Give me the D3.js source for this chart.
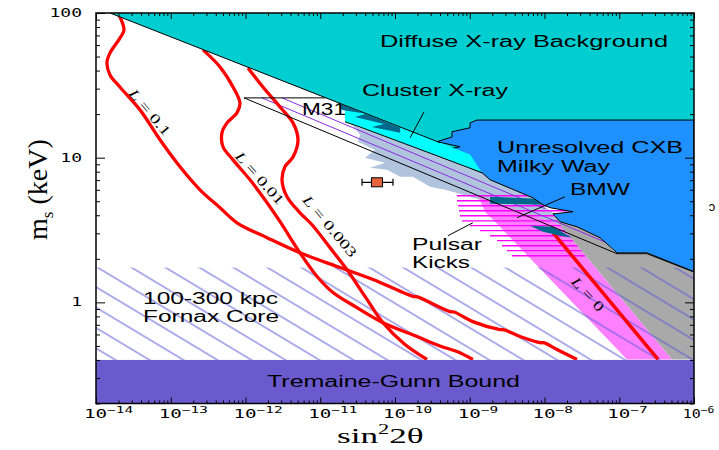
<!DOCTYPE html>
<html>
<head>
<meta charset="utf-8">
<script src="https://cdn.jsdelivr.net/npm/d3@7"></script>
<style>
  body { margin: 0; background: #fff; }
</style>
</head>
<body>
<div id="canvas"></div>
<script>
// axis ranges
const xDomain = [1e-14, 1e-6];
const yDomain = [0.2, 100];
const xDecades = [1e-14, 1e-13, 1e-12, 1e-11, 1e-10, 1e-9, 1e-8, 1e-7, 1e-6];
const xDecadeExps = ["\u221214", "\u221213", "\u221212", "\u221211", "\u221210", "\u22129", "\u22128", "\u22127", "\u22126"];
const yDecades = [1, 10, 100];

// [sin^2 2theta, m_s (keV)]
const curveL01 = [[1.97e-14,100],[2.37e-14,76.4],[2.09e-14,67.1],[1.54e-14,53.0],[1.40e-14,45.2],[1.54e-14,37.3],
  [2.09e-14,30.8],[3.88e-14,21.4],[7.18e-14,13.3],[1.33e-13,8.65],[2.46e-13,6.0],[4.56e-13,4.51],[7.69e-13,3.55],
  [1.94e-12,2.80],[5.36e-12,2.20],[1.84e-11,1.74],[5.08e-11,1.44],[1.74e-10,1.10],[2.0e-10,1.09],[5.45e-10,0.863],
  [6.2e-10,0.858],[1.10e-9,0.736],[2.54e-9,0.649],[2.9e-9,0.645],[4.70e-9,0.581],[8.71e-9,0.527],[1.0e-8,0.525],
  [1.47e-8,0.472],[2.72e-8,0.403]];
const curveL001 = [[2.70e-13,55.6],[4.56e-13,42.4],[6.81e-13,30.8],[8.43e-13,23.9],[7.69e-13,20.4],[5.66e-13,17.4],
  [4.85e-13,14.9],[5.0e-13,11.9],[6.81e-13,9.66],[1.15e-12,7.03],[1.82e-12,5.12],[2.90e-12,3.61],[5.36e-12,2.20],
  [9.06e-12,1.51],[1.48e-11,1.17],[3.10e-11,0.92],[6.90e-11,0.724],[1.97e-10,0.581],[4.0e-10,0.50],[6.75e-10,0.457],
  [1.10e-9,0.403]];
const curveL0003 = [[1.08e-12,41.7],[1.71e-12,30.8],[2.90e-12,22.4],[4.32e-12,17.4],[5.04e-12,13.3],[4.32e-12,10.1],
  [3.37e-12,8.65],[3.08e-12,7.03],[3.59e-12,5.37],[5.36e-12,4.16],[7.76e-12,3.44],[1.35e-11,2.39],[2.28e-11,1.68],
  [3.97e-11,1.10],[6.90e-11,0.724],[1.36e-10,0.511],[2.68e-10,0.403]];
const curveL0 = [[1.30e-8,3.03],[3.30e-7,0.403]];

const diffuseXray = [[1.54e-14,100],[1e-6,100],[1e-6,1.97],[1.37e-9,9.83]];
const diffuseEdge = [[1.54e-14,100],[4.0e-10,12.7]];
const unresolvedCXB = [[1.25e-9,18.2],[1e-6,18.2],[1e-6,1.63],[2.35e-7,2.20],[9.33e-8,2.20],[5.52e-8,2.80],
  [2.72e-8,3.33],[1.61e-8,3.61],[1.30e-8,4.09],[2.40e-8,4.23],[1.19e-8,4.51],[9.55e-9,4.73],[7.01e-9,5.28],
  [1.87e-9,7.03],[1.46e-9,7.87],[1.01e-9,8.51],[7.41e-10,9.23],[6.75e-10,10.1],[3.43e-10,11.0],[7.41e-10,11.9],
  [3.65e-10,12.9],[5.79e-10,13.9],[5.79e-10,15.1],[1.01e-9,16.1],[1.01e-9,17.4]];
const clusterXray = [[2.14e-11,22.8],[4.0e-10,12.7],[1.01e-9,10.5],[1.46e-9,7.87],[1.74e-10,11.9],[3.40e-11,16.3],[2.14e-11,17.7]];
const clusterEdge = [[2.14e-11,17.7],[3.40e-11,16.3],[1.74e-10,11.9],[1.46e-9,7.87]];
const m31Spikes = [[1.73e-11,23.9],[1.17e-10,16.1],[1.17e-10,14.9],[4.92e-11,16.3],[7.13e-11,17.1],[2.92e-11,19.1],
  [4.09e-11,20.1],[1.95e-11,21.4]];
const bmwRegion = [[2.66e-11,16.9],[1.74e-10,11.9],[1.46e-9,7.87],[7.01e-9,5.28],[1.30e-8,4.16],[1.61e-8,3.61],
  [2.40e-8,2.71],[1.38e-8,2.89],[6.40e-9,3.33],[3.45e-9,3.44],[2.54e-9,3.44],[2.05e-9,3.91],[1.37e-9,5.12],
  [6.75e-10,5.71],[4.67e-10,6.0],[2.94e-10,6.30],[1.74e-10,7.38],[1.17e-10,7.38],[7.82e-11,8.24],[4.63e-11,8.51],
  [7.35e-11,9.23],[3.97e-11,9.98],[5.40e-11,11.3],[3.20e-11,12.9],[3.40e-11,14.4]];
const bmwUpperPatch = [[1.87e-9,5.37],[7.94e-9,5.20],[1.02e-8,4.73],[1.87e-9,4.81]];
const bmwLowerPatch = [[6.40e-9,3.39],[1.30e-8,3.33],[2.33e-8,2.80],[1.61e-8,2.89],[9.55e-9,3.08]];
const greyRegion = [[1.30e-8,4.16],[2.72e-8,3.33],[5.52e-8,2.80],[9.33e-8,2.17],[2.35e-7,2.17],[1e-6,1.63],
  [1e-6,0.403],[5.08e-7,0.403],[1.61e-8,3.44]];
const lZeroBand = [[1.29e-9,5.46],[6.40e-9,4.04],[1.61e-8,3.44],[5.08e-7,0.403],[1.27e-7,0.403],[2.54e-9,3.33],[1.60e-9,4.23]];
const pulsarMass = [5.46,5.04,4.65,4.30,3.97,3.66,3.39,3.13,2.89,2.67,2.46,2.28,2.10];
const pulsarLeft = [6.75e-10,6.75e-10,6.97e-10,7.18e-10,7.41e-10,7.87e-10,1.01e-9,1.37e-9,1.87e-9,2.32e-9,2.70e-9,3.15e-9,3.67e-9];
const pulsarRight = 3.48e-8;
const m31Top = [[9.55e-13,25.9],[1.16e-11,25.9]];
const m31Lower = [[9.55e-13,25.9],[9.33e-8,2.17],[2.35e-7,2.17],[9.7e-7,1.63]];
const purpleLines = [[[1.66e-12,25.9],[1.31e-7,2.24]], [[3.08e-12,25.9],[1.02e-8,4.44]]];
const fornaxTop = 1.74;
const tremaineTop = 0.4;
const pointX = 5.74e-11, pointM = 6.76, pointErr = [3.62e-11, 9.40e-11];
const pointers = [[[2.44e-10,20.7],[1.59e-10,13.7]], [[1.88e-8,5.37],[4.29e-9,3.85]], [[5.12e-10,2.89],[1.10e-9,3.55]]];

const svg = d3.select("#canvas").append("svg").attr("width", 719).attr("height", 450);
const x = d3.scaleLog().domain(xDomain).range([96, 694]);
const y = d3.scaleLog().domain(yDomain).range([403.5, 13]);
const line = d3.line().x(d => x(d[0])).y(d => y(d[1]));
const smooth = d3.line().x(d => x(d[0])).y(d => y(d[1])).curve(d3.curveCatmullRom.alpha(0.5));

const plot = svg.append("g");
plot.append("defs").append("clipPath").attr("id", "clip")
  .append("rect").attr("x", 96).attr("y", 13).attr("width", 598).attr("height", 390.5);
const g = plot.append("g").attr("clip-path", "url(#clip)");

function region(pts, fill, stroke) {
  g.append("path").attr("d", line(pts) + "Z").attr("fill", fill)
    .attr("stroke", stroke || "none").attr("stroke-width", 1);
}
function polyline(pts, color, width, curved) {
  g.append("path").attr("d", (curved ? smooth : line)(pts)).attr("fill", "none")
    .attr("stroke", color).attr("stroke-width", width).attr("stroke-linejoin", "round");
}

region(bmwRegion, "#b0c4de");
region(lZeroBand, "#ff80ff");
pulsarMass.forEach((m, i) => {
  g.append("line").attr("x1", x(pulsarLeft[i])).attr("x2", x(pulsarRight))
    .attr("y1", y(m)).attr("y2", y(m)).attr("stroke", "#ff00ff").attr("stroke-width", 1.4);
});
region(greyRegion, "#a9a9a9");
purpleLines.forEach(p => polyline(p, "#8a2be2", 1));

// Fornax hatch
const pat = svg.append("defs").append("pattern").attr("id", "fornax")
  .attr("patternUnits", "userSpaceOnUse").attr("width", 40).attr("height", 17.5)
  .attr("patternTransform", "translate(106.2,262.5) rotate(31)");
pat.append("line").attr("x1", 0).attr("x2", 40).attr("y1", 8.75).attr("y2", 8.75)
  .attr("stroke", "#5a5ad8").attr("stroke-width", 1);
g.append("rect").attr("x", 96).attr("width", 598)
  .attr("y", y(fornaxTop)).attr("height", y(tremaineTop) - y(fornaxTop))
  .attr("fill", "url(#fornax)");

[curveL01, curveL001, curveL0003].forEach(c => polyline(c, "#ff0000", 3.3, true));
polyline(curveL0, "#ff0000", 3.5);
region(bmwUpperPatch, "#00688b");
region(bmwLowerPatch, "#00688b");

region(diffuseXray, "#00ced1");
region(unresolvedCXB, "#1e90ff", "#000");
region(clusterXray, "#00ffff");
polyline(clusterEdge, "#000", 1);
region(m31Spikes, "#00688b");
polyline(diffuseEdge, "#000", 1);
polyline(m31Top, "#000", 1);
polyline(m31Lower, "#000", 1);

g.append("rect").attr("x", 96).attr("width", 598)
  .attr("y", y(tremaineTop)).attr("height", y(yDomain[0]) - y(tremaineTop))
  .attr("fill", "#6a5acd");

pointers.forEach(p => polyline(p, "#000", 1));

// data point with error bar
const py = y(pointM);
g.append("line").attr("x1", x(pointErr[0])).attr("x2", x(pointErr[1])).attr("y1", py).attr("y2", py)
  .attr("stroke", "#000").attr("stroke-width", 1.2);
pointErr.forEach(v => g.append("line").attr("x1", x(v)).attr("x2", x(v)).attr("y1", py - 3.5).attr("y2", py + 3.5)
  .attr("stroke", "#000").attr("stroke-width", 1.2));
g.append("rect").attr("x", x(pointX) - 5.5).attr("y", py - 4.5).attr("width", 11).attr("height", 9)
  .attr("fill", "#e8643c").attr("stroke", "#000").attr("stroke-width", 1);

// region labels
const labels = [
  ["Diffuse X-ray Background", 380, 47, 288],
  ["Cluster X-ray", 362, 96, 146],
  ["M31", 302, 115, 44],
  ["Unresolved CXB", 497, 153, 186],
  ["Milky Way", 497, 172, 113],
  ["BMW", 570, 195, 60],
  ["Pulsar", 412, 250, 70],
  ["Kicks", 412, 268, 58],
  ["100-300 kpc", 143, 304, 135],
  ["Fornax Core", 143, 322, 136],
  ["Tremaine-Gunn Bound", 267, 387, 253]
];
labels.forEach(l => {
  svg.append("text").attr("x", l[1]).attr("y", l[2]).text(l[0])
    .attr("font-family", "Liberation Sans, Arial, sans-serif").attr("font-size", 16)
    .attr("textLength", l[3]).attr("lengthAdjust", "spacingAndGlyphs").attr("fill", "#000");
});

const lLabels = [
  ["0.1", 150, 112, 50],
  ["0.01", 260, 178, 48],
  ["0.003", 330, 226, 50],
  ["0", 588, 294, 47]
];
lLabels.forEach(l => {
  const t = svg.append("text")
    .attr("transform", `translate(${l[1]},${l[2]}) rotate(${l[3]}) scale(1.4,1)`)
    .attr("text-anchor", "middle").attr("dy", 5)
    .attr("font-family", "Liberation Serif, Times New Roman, serif").attr("font-size", 14);
  t.append("tspan").attr("font-style", "italic").text("L");
  t.append("tspan").text(" = " + l[0]);
});

// axes ticks
const allX = x.ticks(), allY = y.ticks();
const isMajor = v => Math.abs(Math.log10(v) - Math.round(Math.log10(v))) < 1e-6;
function ticks(axis, vals, size, tr) {
  svg.append("g").attr("transform", tr)
    .call(axis.tickValues(vals).tickSize(size).tickFormat(""))
    .call(s => s.select(".domain").remove())
    .call(s => s.selectAll("line").attr("stroke", "#000").attr("stroke-width", 1));
}
ticks(d3.axisBottom(x), allX.filter(v => !isMajor(v)), -3, "translate(0,403.5)");
ticks(d3.axisBottom(x), allX.filter(isMajor), -6, "translate(0,403.5)");
ticks(d3.axisTop(x), allX.filter(v => !isMajor(v)), -3, "translate(0,13)");
ticks(d3.axisTop(x), allX.filter(isMajor), -6, "translate(0,13)");
ticks(d3.axisLeft(y), allY.filter(v => !isMajor(v)), -4, "translate(96,0)");
ticks(d3.axisLeft(y), allY.filter(isMajor), -9, "translate(96,0)");
ticks(d3.axisRight(y), allY.filter(v => !isMajor(v)), -4, "translate(694,0)");
ticks(d3.axisRight(y), allY.filter(isMajor), -9, "translate(694,0)");

svg.append("rect").attr("x", 96).attr("y", 13).attr("width", 598).attr("height", 390.5)
  .attr("fill", "none").attr("stroke", "#000").attr("stroke-width", 1.5);

// tick labels
const tickFont = "DejaVu Sans Mono, Liberation Mono, monospace";
xDecades.forEach((v, i) => {
  const last = i === xDecades.length - 1;
  const t = svg.append("text")
    .attr("transform", `translate(${x(v) - (last ? 2 : 0)},418) scale(${last ? 1.25 : 1.6},1)`)
    .attr("font-family", tickFont).attr("font-size", 12);
  t.append("tspan").attr("x", -7.5).text("10");
  t.append("tspan").attr("dy", -5).attr("font-size", 9).text(xDecadeExps[i]);
});
yDecades.forEach(v => {
  svg.append("text").attr("transform", `translate(82,${y(v) + 4}) scale(1.5,1)`)
    .attr("text-anchor", "end")
    .attr("font-family", tickFont).attr("font-size", 12)
    .text(String(v));
});

// axis titles
const xt = svg.append("text").attr("transform", "translate(337,443) scale(1.6,1)")
  .attr("font-family", "Liberation Serif, Times New Roman, serif").attr("font-size", 22);
xt.append("tspan").text("sin");
xt.append("tspan").attr("dy", -9).attr("font-size", 14).text("2");
xt.append("tspan").attr("dy", 9).text("2\u03b8");

const yt = svg.append("text").attr("transform", "translate(47,240) rotate(-90)")
  .attr("font-family", "Liberation Serif, Times New Roman, serif").attr("font-size", 28);
yt.append("tspan").text("m");
yt.append("tspan").attr("dy", 6).attr("font-size", 17).text("s");
yt.append("tspan").attr("dy", -6).text(" (keV)");

svg.append("text").attr("transform", "translate(712,204) rotate(180)").attr("text-anchor", "middle")
  .attr("font-family", "Liberation Sans, Arial, sans-serif").attr("font-size", 13).text("c");
</script>
</body>
</html>
